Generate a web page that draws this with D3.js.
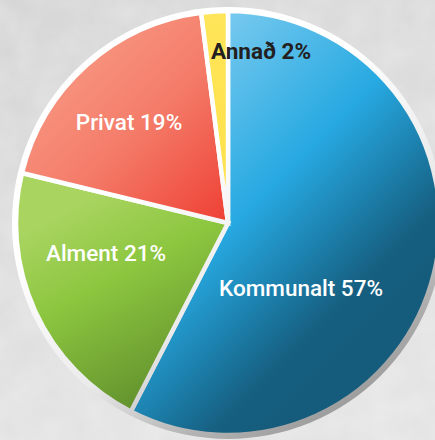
<!DOCTYPE html>
<html>
<head>
<meta charset="utf-8">
<script src="https://d3js.org/d3.v7.min.js"></script>
<style>
  html, body { margin: 0; padding: 0; background: #dedede; }
  svg { display: block; }
</style>
</head>
<body>
<div id="chart"></div>
<script>
// chart data
const categories = ["Kommunalt", "Alment", "Privat", "Annað"];
const shares = [57, 21, 19, 2];
const labels = ["Kommunalt 57%", "Alment 21%", "Privat 19%", "Annað 2%"];

// layout
const width = 435, height = 440;
const cx = 228, cy = 223, radius = 212, rim = 4;
// label centres relative to the pie centre
const labelOffsets = [[73, 65], [-122, 30], [-99, -101], [33, -172]];
const labelColors = ["#ffffff", "#ffffff", "#ffffff", "#231f20"];
const fills = ["url(#g0)", "url(#g1)", "url(#g2)", "url(#g3)"];

const svg = d3.select("#chart")
    .append("svg")
    .attr("width", width)
    .attr("height", height);

const defs = svg.append("defs");

// soft concrete texture for the background
const noise = defs.append("filter").attr("id", "noise")
    .attr("x", 0).attr("y", 0).attr("width", "100%").attr("height", "100%");
noise.append("feTurbulence")
    .attr("type", "fractalNoise").attr("baseFrequency", 0.03)
    .attr("numOctaves", 3).attr("seed", 7).attr("result", "t");
noise.append("feColorMatrix").attr("in", "t").attr("type", "matrix")
    .attr("values", "0 0 0 0 1  0 0 0 0 1  0 0 0 0 1  0 0 0 -1.2 0.9");

// gradient given in page coords, used inside the centred group
function linGrad(id, x1, y1, x2, y2, stops, page) {
    const o = page ? [0, 0] : [cx, cy];
    const gr = defs.append("linearGradient").attr("id", id)
        .attr("gradientUnits", "userSpaceOnUse")
        .attr("x1", x1 - o[0]).attr("y1", y1 - o[1])
        .attr("x2", x2 - o[0]).attr("y2", y2 - o[1]);
    stops.forEach(s => gr.append("stop").attr("offset", s[0]).attr("stop-color", s[1]));
}

linGrad("bg", 0, 0, 150, 440, [[0, "#d6d6d6"], [1, "#e4e4e4"]], true);
linGrad("rim", 160, 170, 330, 440, [[0, "#ffffff"], [0.45, "#ebebeb"], [0.75, "#b4b4b4"], [1, "#959595"]]);
linGrad("g0", 125, 125, 350, 350, [[0, "#74c8ee"], [0.46, "#27a9e1"], [0.7, "#1c7fab"], [0.88, "#165f80"], [1, "#155c7c"]]);
linGrad("g1", 60, 215, 170, 420, [[0, "#a8d45f"], [0.35, "#8cc63f"], [1, "#5a872a"]]);
linGrad("g2", 40, 30, 230, 230, [[0, "#f8a08a"], [0.5, "#f47c69"], [1, "#ee3c31"]]);
linGrad("g3", 200, 10, 230, 220, [[0, "#ffe55a"], [1, "#fde047"]]);

svg.append("rect").attr("width", width).attr("height", height).attr("fill", "url(#bg)");
svg.append("rect").attr("width", width).attr("height", height)
    .attr("filter", "url(#noise)").attr("opacity", 0.3);

const g = svg.append("g").attr("transform", `translate(${cx},${cy})`);

const pie = d3.pie().sort(null).value(d => d);
const arc = d3.arc().innerRadius(0).outerRadius(radius);

// outer rim
g.append("circle")
    .attr("r", radius + rim)
    .attr("fill", "url(#rim)");

g.selectAll("path")
    .data(pie(shares))
    .enter()
    .append("path")
    .attr("d", arc)
    .attr("fill", (d, i) => fills[i])
    .attr("stroke", "url(#rim)")
    .attr("stroke-width", 4.5)
    .attr("stroke-linejoin", "miter");

g.selectAll("text")
    .data(labels)
    .enter()
    .append("text")
    .attr("x", (d, i) => labelOffsets[i][0])
    .attr("y", (d, i) => labelOffsets[i][1])
    .attr("dy", "0.36em")
    .attr("text-anchor", "middle")
    .attr("font-family", "Roboto, 'Open Sans', sans-serif")
    .attr("font-weight", (d, i) => i === 3 ? 700 : 500)
    .attr("font-size", 22.5)
    .attr("fill", (d, i) => labelColors[i])
    .text(d => d);
</script>
</body>
</html>
